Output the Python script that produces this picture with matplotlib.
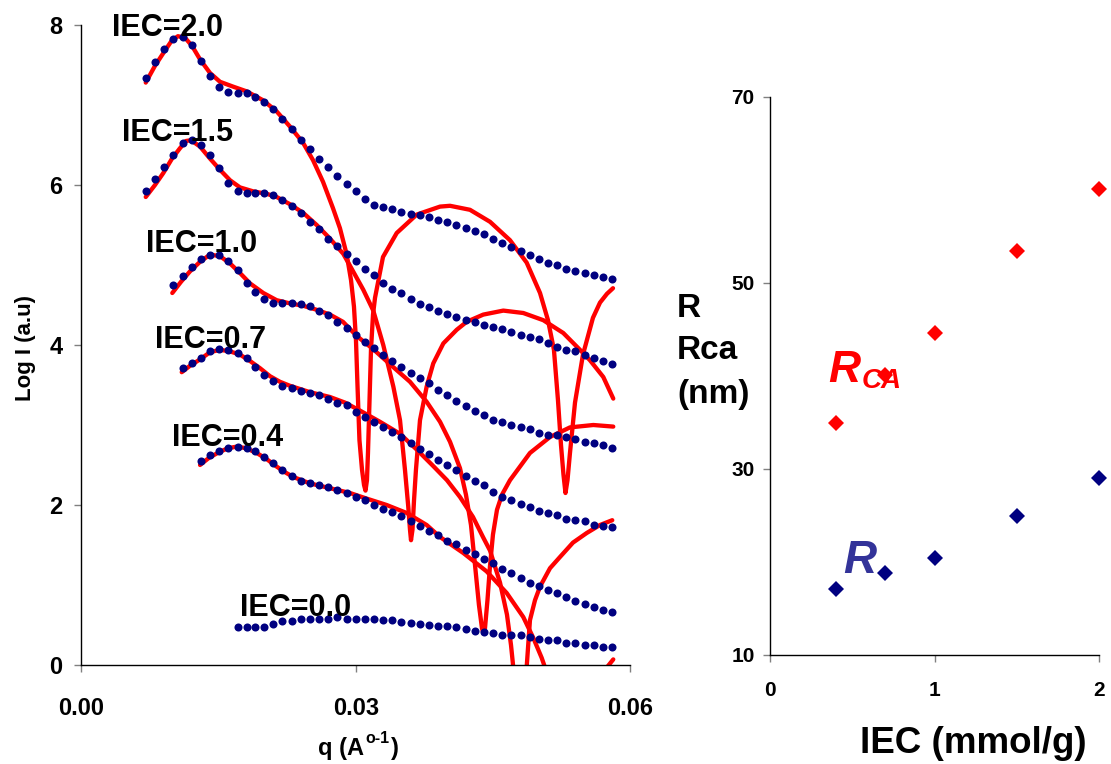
import matplotlib
matplotlib.use('Agg')
import matplotlib.pyplot as plt

plt.rcParams['font.family'] = ['Liberation Sans', 'DejaVu Sans']
plt.rcParams['font.weight'] = 'bold'

# ---------------- data: SAXS curves (left panel) ----------------
q_grid = [0.0071, 0.0081, 0.0091, 0.0101, 0.0111, 0.0121, 0.0131, 0.0141, 0.0151, 0.0161,
          0.0171, 0.0181, 0.0190, 0.0200, 0.0210, 0.0220, 0.0230, 0.0240, 0.0250, 0.0260,
          0.0270, 0.0280, 0.0290, 0.0300, 0.0310, 0.0320, 0.0330, 0.0340, 0.0350, 0.0360,
          0.0370, 0.0380, 0.0390, 0.0400, 0.0410, 0.0420, 0.0430, 0.0440, 0.0450, 0.0460,
          0.0470, 0.0480, 0.0490, 0.0500, 0.0510, 0.0520, 0.0530, 0.0540, 0.0550, 0.0560,
          0.0570, 0.0580]

exp_20 = [7.34, 7.54, 7.70, 7.82, 7.85, 7.75, 7.55, 7.36, 7.22, 7.16, 7.15, 7.15, 7.10, 7.04,
          6.95, 6.83, 6.70, 6.56, 6.45, 6.33, 6.23, 6.11, 6.01, 5.92, 5.83, 5.75, 5.72, 5.70,
          5.66, 5.64, 5.62, 5.60, 5.56, 5.54, 5.50, 5.46, 5.42, 5.39, 5.33, 5.28, 5.23, 5.17,
          5.13, 5.07, 5.03, 5.00, 4.95, 4.93, 4.90, 4.88, 4.85, 4.82]
exp_15 = [5.93, 6.07, 6.23, 6.38, 6.52, 6.56, 6.50, 6.38, 6.21, 6.03, 5.93, 5.90, 5.90, 5.90,
          5.88, 5.81, 5.74, 5.65, 5.54, 5.45, 5.33, 5.24, 5.14, 5.05, 4.95, 4.88, 4.78, 4.70,
          4.65, 4.57, 4.51, 4.47, 4.43, 4.39, 4.35, 4.31, 4.29, 4.25, 4.23, 4.20, 4.16, 4.13,
          4.10, 4.07, 4.02, 3.98, 3.94, 3.92, 3.88, 3.84, 3.80, 3.76]
exp_10 = [4.75, 4.86, 4.98, 5.07, 5.13, 5.13, 5.05, 4.94, 4.78, 4.66, 4.58, 4.53, 4.53, 4.53,
          4.51, 4.49, 4.43, 4.37, 4.29, 4.21, 4.12, 4.04, 3.96, 3.88, 3.80, 3.73, 3.65, 3.59,
          3.52, 3.44, 3.38, 3.30, 3.24, 3.18, 3.12, 3.06, 3.04, 3.00, 2.97, 2.95, 2.90, 2.88,
          2.87, 2.85, 2.82, 2.79, 2.77, 2.75, 2.71]
exp_07 = [3.71, 3.78, 3.84, 3.92, 3.95, 3.94, 3.90, 3.84, 3.73, 3.63, 3.55, 3.49, 3.46, 3.42,
          3.40, 3.38, 3.33, 3.28, 3.25, 3.16, 3.10, 3.04, 2.97, 2.91, 2.85, 2.77, 2.70, 2.64,
          2.56, 2.50, 2.44, 2.36, 2.30, 2.25, 2.16, 2.10, 2.06, 2.01, 1.97, 1.93, 1.90, 1.87,
          1.83, 1.81, 1.80, 1.75, 1.74, 1.72]
exp_04 = [2.55, 2.63, 2.68, 2.71, 2.73, 2.71, 2.67, 2.60, 2.52, 2.44, 2.36, 2.30, 2.27, 2.25,
          2.22, 2.19, 2.15, 2.10, 2.06, 2.00, 1.95, 1.91, 1.86, 1.80, 1.74, 1.68, 1.63, 1.55,
          1.51, 1.44, 1.39, 1.32, 1.27, 1.20, 1.15, 1.09, 1.03, 0.99, 0.94, 0.90, 0.85, 0.80,
          0.76, 0.72, 0.69, 0.66]
exp_00 = [0.47, 0.48, 0.48, 0.48, 0.51, 0.55, 0.55, 0.57, 0.58, 0.58, 0.58, 0.60, 0.58, 0.58,
          0.58, 0.58, 0.56, 0.56, 0.54, 0.52, 0.51, 0.50, 0.49, 0.49, 0.47, 0.45, 0.43, 0.41,
          0.40, 0.38, 0.37, 0.37, 0.35, 0.32, 0.31, 0.31, 0.28, 0.27, 0.25, 0.25, 0.23, 0.22]

# model fits (red)
fit_20_q = [0.00707, 0.00808, 0.00917, 0.00994, 0.01059, 0.01136, 0.01212, 0.01300, 0.01409,
            0.01518, 0.01660, 0.01810, 0.01987, 0.02137, 0.02282, 0.02424, 0.02534, 0.02643,
            0.02752, 0.02828, 0.02902, 0.02949, 0.02981, 0.03003, 0.03020, 0.03041, 0.03069,
            0.03091, 0.03107, 0.03123, 0.03134, 0.03151, 0.03167, 0.03189, 0.03211, 0.03298,
            0.03448, 0.03666, 0.03921, 0.04030, 0.04248, 0.04467, 0.04685, 0.04867, 0.05013,
            0.05100, 0.05165, 0.05209, 0.05242, 0.05269, 0.05291, 0.05313, 0.05340, 0.05395,
            0.05482, 0.05591, 0.05668, 0.05744, 0.05810]
fit_20_y = [7.28, 7.49, 7.68, 7.81, 7.86, 7.84, 7.74, 7.57, 7.40, 7.29, 7.23, 7.17, 7.06, 6.92,
            6.73, 6.53, 6.31, 6.04, 5.71, 5.46, 5.13, 4.81, 4.48, 4.06, 3.48, 2.81, 2.44, 2.25,
            2.18, 2.31, 2.65, 3.31, 3.94, 4.38, 4.59, 5.10, 5.40, 5.63, 5.73, 5.74, 5.69, 5.54,
            5.31, 5.03, 4.65, 4.31, 3.94, 3.31, 2.75, 2.38, 2.15, 2.31, 2.65, 3.28, 3.88, 4.34,
            4.53, 4.64, 4.71]

fit_15_q = [0.00707, 0.00808, 0.00899, 0.00994, 0.01081, 0.01147, 0.01201, 0.01300, 0.01409,
            0.01518, 0.01627, 0.01736, 0.01882, 0.02028, 0.02137, 0.02282, 0.02428, 0.02574,
            0.02719, 0.02864, 0.02938, 0.03083, 0.03192, 0.03301, 0.03411, 0.03484, 0.03538,
            0.03574, 0.03593, 0.03604, 0.03620, 0.03637, 0.03658, 0.03702, 0.03775, 0.03847,
            0.03957, 0.04103, 0.04212, 0.04393, 0.04612, 0.04830, 0.05049, 0.05267, 0.05449,
            0.05558, 0.05704, 0.05813]
fit_15_y = [5.85, 6.00, 6.15, 6.33, 6.46, 6.55, 6.56, 6.48, 6.33, 6.19, 6.06, 5.97, 5.92, 5.89,
            5.85, 5.76, 5.65, 5.50, 5.33, 5.14, 4.99, 4.69, 4.43, 4.00, 3.48, 3.06, 2.44, 1.98,
            1.69, 1.56, 1.69, 2.06, 2.44, 3.06, 3.48, 3.77, 4.02, 4.19, 4.29, 4.38, 4.43, 4.40,
            4.31, 4.15, 3.94, 3.81, 3.60, 3.33]

fit_10_q = [0.00997, 0.01092, 0.01190, 0.01300, 0.01409, 0.01518, 0.01627, 0.01736, 0.01846,
            0.01991, 0.02137, 0.02282, 0.02428, 0.02574, 0.02719, 0.02861, 0.03014, 0.03189,
            0.03374, 0.03593, 0.03775, 0.03921, 0.04030, 0.04139, 0.04204, 0.04259, 0.04303,
            0.04346, 0.04379, 0.04393, 0.04412, 0.04439, 0.04466, 0.04499, 0.04543, 0.04598,
            0.04685, 0.04903, 0.05122, 0.05340, 0.05595, 0.05813]
fit_10_y = [4.65, 4.79, 4.92, 5.04, 5.13, 5.11, 5.02, 4.90, 4.77, 4.65, 4.56, 4.52, 4.49, 4.44,
            4.38, 4.29, 4.11, 3.95, 3.76, 3.54, 3.29, 3.04, 2.79, 2.46, 2.13, 1.75, 1.25, 0.75,
            0.46, 0.40, 0.46, 0.81, 1.23, 1.63, 1.94, 2.13, 2.31, 2.65, 2.85, 2.97, 3.00, 2.98]

fit_07_q = [0.01100, 0.01190, 0.01300, 0.01409, 0.01518, 0.01627, 0.01736, 0.01846, 0.01955,
            0.02064, 0.02173, 0.02282, 0.02392, 0.02501, 0.02610, 0.02719, 0.02883, 0.03047,
            0.03265, 0.03484, 0.03669, 0.03844, 0.03997, 0.04139, 0.04281, 0.04390, 0.04467,
            0.04576, 0.04652, 0.04696, 0.04721, 0.04794, 0.04867, 0.04903, 0.04958, 0.05013,
            0.05122, 0.05231, 0.05373, 0.05523, 0.05668, 0.05802]
fit_07_y = [3.66, 3.74, 3.82, 3.91, 3.94, 3.92, 3.88, 3.80, 3.71, 3.61, 3.54, 3.49, 3.45, 3.41,
            3.38, 3.35, 3.28, 3.18, 3.04, 2.89, 2.69, 2.49, 2.31, 2.10, 1.85, 1.60, 1.43, 1.03,
            0.63, 0.25, -0.03, -0.94, -0.03, 0.56, 0.81, 0.98, 1.21, 1.35, 1.53, 1.65, 1.75, 1.81]

fit_04_q = [0.01300, 0.01398, 0.01507, 0.01605, 0.01704, 0.01802, 0.01919, 0.02020, 0.02137,
            0.02228, 0.02318, 0.02501, 0.02719, 0.02938, 0.03120, 0.03338, 0.03557, 0.03775,
            0.03921, 0.04175, 0.04430, 0.04649, 0.04830, 0.04939, 0.05031, 0.05067, 0.05231,
            0.05449, 0.05613, 0.05722, 0.05813]
fit_04_y = [2.50, 2.59, 2.66, 2.71, 2.73, 2.71, 2.65, 2.58, 2.48, 2.41, 2.35, 2.27, 2.21, 2.15,
            2.08, 2.00, 1.90, 1.75, 1.60, 1.40, 1.17, 0.90, 0.60, 0.34, 0.09, -0.03, -0.69,
            -1.69, -0.69, -0.06, 0.07]

iec_labels = ['IEC=2.0', 'IEC=1.5', 'IEC=1.0', 'IEC=0.7', 'IEC=0.4', 'IEC=0.0']
label_x = [0.00339, 0.00448, 0.00710, 0.00808, 0.00994, 0.01736]
label_y = [7.86, 6.55, 5.16, 3.96, 2.74, 0.61]

# ---------------- data: radii vs IEC (right panel) ----------------
iec = [0.4, 0.7, 1.0, 1.5, 2.0]
r_ca = [34.9, 40.1, 44.6, 53.4, 60.1]
r_core = [17.1, 18.8, 20.4, 24.9, 29.0]

# ---------------- figure ----------------
W, H = 1111, 764
fig = plt.figure(figsize=(W / 100, H / 100), dpi=100)


def fx(px):
    return px / W


def fy(py):
    return 1 - py / H


BLUE = '#000080'
RED = '#ff0000'

ax = fig.add_axes([fx(81), fy(665), fx(630.4) - fx(81), fy(25) - fy(665)])
ax.set_xlim(0, 0.06)
ax.set_ylim(0, 8)

for fq, fyv in [(fit_20_q, fit_20_y), (fit_15_q, fit_15_y), (fit_10_q, fit_10_y),
                (fit_07_q, fit_07_y), (fit_04_q, fit_04_y)]:
    ax.plot(fq, fyv, color=RED, lw=3.1, solid_joinstyle='round', solid_capstyle='round',
            zorder=2)

for ys in [exp_20, exp_15, exp_10, exp_07, exp_04, exp_00]:
    qs = q_grid[len(q_grid) - len(ys):]
    ax.plot(qs, ys, linestyle='none', marker='o', ms=5.8, color=BLUE, mec=BLUE, mew=0,
            zorder=3, clip_on=False)

for lab, lx, ly in zip(iec_labels, label_x, label_y):
    ax.text(lx, ly, lab, fontsize=22, fontweight='bold', ha='left', va='baseline',
            color='black', zorder=4)

ax.set_xticks([0, 0.03, 0.06])
ax.set_xticklabels(['0.00', '0.03', '0.06'])
ax.set_yticks([0, 2, 4, 6, 8])
ax.set_yticklabels(['0', '2', '4', '6', '8'])
ax.tick_params(axis='x', length=5, width=1, color='#808080', pad=18, labelsize=17)
ax.tick_params(axis='y', length=5, width=1, color='#808080', pad=8.5, labelsize=17)
for lbl in ax.get_xticklabels() + ax.get_yticklabels():
    lbl.set_fontweight('bold')
for s in ['top', 'right']:
    ax.spines[s].set_visible(False)
for s in ['left', 'bottom']:
    ax.spines[s].set_color('black')
    ax.spines[s].set_linewidth(1)

fig.text(fx(25), fy(348), 'Log I (a.u)', rotation=90, ha='center', va='center',
         fontsize=16, fontweight='bold')

t1 = fig.text(fx(318), fy(755), 'q (A', fontsize=17, fontweight='bold', ha='left',
              va='baseline')
t2 = ax.annotate('o-1', xy=(1.0, fy(743)), xycoords=(t1, 'figure fraction'),
                 xytext=(1, 0), textcoords='offset points', fontsize=11.5, fontweight='bold',
                 ha='left', va='baseline', annotation_clip=False)
t3 = ax.annotate(')', xy=(1.0, fy(755)), xycoords=(t2, 'figure fraction'),
                 xytext=(1, 0), textcoords='offset points', fontsize=17, fontweight='bold',
                 ha='left', va='baseline', annotation_clip=False)

# right panel
ax2 = fig.add_axes([fx(770), fy(655), fx(1099) - fx(770), fy(97) - fy(655)])
ax2.set_xlim(0, 2)
ax2.set_ylim(10, 70)
ax2.plot(iec, r_ca, linestyle='none', marker='D', ms=8.2, color=RED, mec=RED, mew=0,
         clip_on=False, zorder=3)
ax2.plot(iec, r_core, linestyle='none', marker='D', ms=8.2, color=BLUE, mec=BLUE, mew=0,
         clip_on=False, zorder=3)
ax2.set_xticks([0, 1, 2])
ax2.set_xticklabels(['0', '1', '2'])
ax2.set_yticks([10, 30, 50, 70])
ax2.set_yticklabels(['10', '30', '50', '70'])
ax2.tick_params(axis='x', length=5, width=1, color='#808080', pad=14, labelsize=15)
ax2.tick_params(axis='y', length=5, width=1, color='#808080', pad=6, labelsize=15)
for lbl in ax2.get_xticklabels() + ax2.get_yticklabels():
    lbl.set_fontweight('bold')
for s in ['top', 'right']:
    ax2.spines[s].set_visible(False)
for s in ['left', 'bottom']:
    ax2.spines[s].set_color('black')
    ax2.spines[s].set_linewidth(1)

ax2.text(0.353, 39.35, 'R', color=RED, fontsize=32, fontweight='bold', fontstyle='italic',
         ha='left', va='baseline')
ax2.text(0.559, 38.7, 'CA', color=RED, fontsize=20, fontweight='bold', fontstyle='italic',
         ha='left', va='baseline')
ax2.text(0.444, 18.8, 'R', color='#333399', fontsize=33, fontweight='bold',
         fontstyle='italic', ha='left', va='baseline')

for txt, base in [('R', 317), ('Rca', 359), ('(nm)', 403)]:
    fig.text(fx(677), fy(base), txt, fontsize=24, fontweight='bold', ha='left',
             va='baseline')

fig.savefig('out.png', dpi=100, facecolor='white')
fig.text(fx(860), fy(753), 'IEC (mmol/g)', fontsize=26.5, fontweight='bold', ha='left',
         va='baseline')

fig.savefig('out.png', dpi=100, facecolor='white')
